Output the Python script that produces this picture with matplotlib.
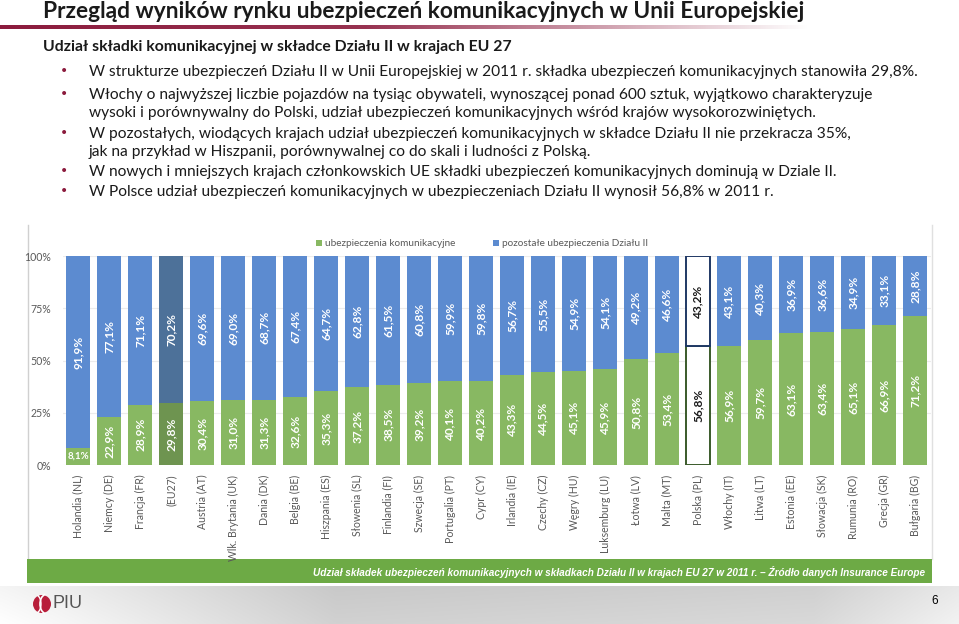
import matplotlib
matplotlib.use("Agg")
import matplotlib.pyplot as plt
import numpy as np
from matplotlib import font_manager as fm
from matplotlib.patches import Rectangle, Circle, Arc

# ---------------- data ----------------
countries = ["Holandia (NL)", "Niemcy (DE)", "Francja (FR)", "(EU27)", "Austria (AT)",
             "Wlk. Brytania (UK)", "Dania (DK)", "Belgia (BE)", "Hiszpania (ES)",
             "Słowenia (SL)", "Finlandia (FI)", "Szwecja (SE)", "Portugalia (PT)",
             "Cypr (CY)", "Irlandia (IE)", "Czechy (CZ)", "Węgry (HU)", "Luksemburg (LU)",
             "Łotwa (LV)", "Malta (MT)", "Polska (PL)", "Włochy (IT)", "Litwa (LT)",
             "Estonia (EE)", "Słowacja (SK)", "Rumunia (RO)", "Grecja (GR)", "Bułgaria (BG)"]
motor = [8.1, 22.9, 28.9, 29.8, 30.4, 31.0, 31.3, 32.6, 35.3, 37.2, 38.5, 39.2, 40.1,
         40.2, 43.3, 44.5, 45.1, 45.9, 50.8, 53.4, 56.8, 56.9, 59.7, 63.1, 63.4, 65.1,
         66.9, 71.2]
other = [91.9, 77.1, 71.1, 70.2, 69.6, 69.0, 68.7, 67.4, 64.7, 62.8, 61.5, 60.8, 59.9,
         59.8, 56.7, 55.5, 54.9, 54.1, 49.2, 46.6, 43.2, 43.1, 40.3, 36.9, 36.6, 34.9,
         33.1, 28.8]
eu_label = "(EU27)"
pl_label = "Polska (PL)"
yticks = [0, 25, 50, 75, 100]
ytick_labels = ["0%", "25%", "50%", "75%", "100%"]
legend_labels = ["ubezpieczenia komunikacyjne", "pozostałe ubezpieczenia Działu II"]

title = "Przegląd wyników rynku ubezpieczeń komunikacyjnych w Unii Europejskiej"
subtitle = "Udział składki komunikacyjnej w składce Działu II w krajach EU 27"
bullets = [
    ["W strukturze ubezpieczeń Działu II w Unii Europejskiej w 2011 r. składka ubezpieczeń komunikacyjnych stanowiła 29,8%."],
    ["Włochy o najwyższej liczbie pojazdów na tysiąc obywateli, wynoszącej ponad 600 sztuk, wyjątkowo charakteryzuje",
     "wysoki i porównywalny do Polski, udział ubezpieczeń komunikacyjnych wśród krajów wysokorozwiniętych."],
    ["W pozostałych, wiodących krajach udział ubezpieczeń komunikacyjnych w składce Działu II nie przekracza 35%,",
     "jak na przykład w Hiszpanii, porównywalnej co do skali i ludności z Polską."],
    ["W nowych i mniejszych krajach członkowskich UE składki ubezpieczeń komunikacyjnych dominują w Dziale II."],
    ["W Polsce udział ubezpieczeń komunikacyjnych w ubezpieczeniach Działu II wynosił 56,8% w 2011 r."],
]
banner = "Udział składek ubezpieczeń komunikacyjnych w składkach Działu II w krajach EU 27 w 2011 r. – Źródło danych Insurance Europe"
page_no = "6"


def has_font(name):
    try:
        fm.findfont(fm.FontProperties(family=name), fallback_to_default=False)
        return True
    except Exception:
        return False


BODY = "Lato" if has_font("Lato") else "DejaVu Sans"
NARROW = "Liberation Sans Narrow" if has_font("Liberation Sans Narrow") else "Liberation Sans"

GREEN = "#88B862"
BLUE = "#5C8BD0"
EU_GREEN = "#6E9450"
EU_BLUE = "#4D7199"
MAROON = "#8B1A3C"
GRAYTXT = "#595959"

W, H = 959, 624
fig = plt.figure(figsize=(W / 100, H / 100), dpi=100)
fig.patch.set_facecolor("white")

# background axes in pixel coordinates
bg = fig.add_axes([0, 0, 1, 1], zorder=0)
bg.set_xlim(0, W)
bg.set_ylim(H, 0)
bg.axis("off")

renderer = fig.canvas.get_renderer()


def fit(t, width):
    for _ in range(3):
        bb = t.get_window_extent(renderer=renderer)
        t.set_fontsize(t.get_fontsize() * width / bb.width)
    return t.get_fontsize()


# bottom gradient
xs = np.linspace(0, 1, 400)
r = np.interp(xs, [0, 0.06, 0.35, 0.85, 1.0], [1.0, 0.97, 0.82, 0.85, 0.95])
grad = np.tile(r, (40, 1))
vert = np.linspace(0.96, 1.0, 40)[:, None]
img = np.clip(grad * vert, 0, 1)
bg.imshow(np.dstack([img, img, img]), extent=[0, W, H, 586], aspect="auto", zorder=0)

# maroon line under title
line = np.zeros((1, 400, 4))
c = matplotlib.colors.to_rgb(MAROON)
line[..., 0], line[..., 1], line[..., 2] = c
lx = np.linspace(0, 1, 400)
line[0, :, 3] = np.clip(np.interp(lx, [0, 0.45, 1.0], [1.0, 0.9, 0.0]), 0, 1)
bg.imshow(line, extent=[0, 810, 29.5, 26.0], aspect="auto", zorder=1)

# title & subtitle
t = bg.text(43, 12, title, family=BODY, fontweight="bold", fontsize=16, va="center",
            ha="left", color="#1a1a1a")
fit(t, 762)
t = bg.text(43, 47, subtitle, family=BODY, fontweight="bold", fontsize=11, va="center",
            ha="left", color="#1a1a1a")
fit(t, 469)

# bullets
ys = [[72], [95, 113], [134, 152], [172], [192]]
t0 = bg.text(89, 72, bullets[0][0], family=BODY, fontsize=11, va="center", ha="left",
             color="#1a1a1a")
fs = fit(t0, 828)
for bl, yy in zip(bullets, ys):
    bg.text(64, yy[0] - 1, "•", family="DejaVu Sans", fontsize=10, va="center", ha="center",
            color=MAROON)
    for k, (txt, y) in enumerate(zip(bl, yy)):
        if bl is bullets[0] and k == 0:
            continue
        bg.text(89, y, txt, family=BODY, fontsize=fs, va="center", ha="left", color="#1a1a1a")

# chart panel
bg.add_patch(Rectangle((27, 225), 905, 334, facecolor="white", edgecolor="none", zorder=1))
bg.plot([27.5, 27.5], [225, 559], color="#d0d0d0", lw=1, zorder=2)
bg.plot([931.5, 931.5], [225, 559], color="#e0e0e0", lw=1, zorder=2)
bg.add_patch(Rectangle((27, 559), 905, 24, facecolor="#6DAA45", edgecolor="none", zorder=2))
t = bg.text(925, 572, banner, family=NARROW, fontweight="bold", style="italic", fontsize=10,
            va="center", ha="right", color="white", zorder=3)
fit(t, 611)

# legend
bg.add_patch(Rectangle((316, 240), 6, 6, facecolor=GREEN, edgecolor="none", zorder=3))
t = bg.text(325, 243, legend_labels[0], family=BODY, fontsize=8, va="center", ha="left",
            color=GRAYTXT, zorder=3)
lfs = fit(t, 130)
bg.add_patch(Rectangle((493, 240), 6, 6, facecolor=BLUE, edgecolor="none", zorder=3))
bg.text(502, 243, legend_labels[1], family=BODY, fontsize=lfs, va="center", ha="left",
        color=GRAYTXT, zorder=3)

# logo
bg.add_patch(Circle((42, 604), 9, facecolor="#B81E3A", edgecolor="none", zorder=3))
bg.add_patch(Arc((47, 604), 14, 20, theta1=100, theta2=260, color="white", lw=1.2, zorder=4))
bg.add_patch(Arc((36, 604), 10, 18, theta1=-80, theta2=80, color="white", lw=1.0, zorder=4))
bg.text(52, 604, "PIU", family=NARROW, fontsize=13, va="center", ha="left", color="#555555",
        zorder=3)
bg.text(935, 601, page_no, family="Liberation Sans", fontsize=8.5, va="center", ha="center",
        color="black", zorder=3)

# ---------------- chart ----------------
ax = fig.add_axes([62.5 / W, 1 - 465 / H, (930.5 - 62.5) / W, (465 - 256) / H], zorder=2)
ax.set_facecolor("none")
x = np.arange(len(countries))
m = np.array(motor)
o = np.array(other)
gcols = [EU_GREEN if c == eu_label else ("white" if c == pl_label else GREEN) for c in countries]
bcols = [EU_BLUE if c == eu_label else ("white" if c == pl_label else BLUE) for c in countries]
gb = ax.bar(x, m, width=0.77, color=gcols, zorder=2)
bb = ax.bar(x, o, bottom=m, width=0.77, color=bcols, zorder=2)
ipl = countries.index(pl_label)
gb[ipl].set_edgecolor("#3A5A2A")
gb[ipl].set_linewidth(1.4)
bb[ipl].set_edgecolor("#1F3864")
bb[ipl].set_linewidth(1.4)

for i in range(len(countries)):
    col = "#1a1a1a" if countries[i] == pl_label else "white"
    for val, base in ((m[i], 0), (o[i], m[i])):
        lab = f"{val:.1f}%".replace(".", ",")
        if val < 15:
            ax.text(x[i], base + val / 2, lab, rotation=0, ha="center", va="center",
                    family=BODY, fontweight="bold", fontsize=7.0, color=col, zorder=3)
        else:
            ax.text(x[i], base + val / 2, lab, rotation=90, ha="center", va="center",
                    family=BODY, fontweight="bold", fontsize=8.6, color=col, zorder=3)

ax.set_xlim(-0.5, len(countries) - 0.5)
ax.set_ylim(0, 100)
ax.set_yticks(yticks)
ax.set_yticklabels(ytick_labels, family=BODY, fontsize=7.6, color=GRAYTXT)
ax.set_xticks(x)
ax.set_xticklabels(countries, rotation=90, family=BODY, fontsize=7.6, color=GRAYTXT,
                   va="top", ha="center")
ax.tick_params(axis="both", length=0)
ax.tick_params(axis="y", pad=8)
ax.tick_params(axis="x", pad=7)
for s in ax.spines.values():
    s.set_visible(False)
ax.yaxis.grid(True, color="#ececec", lw=0.8, zorder=0)
ax.set_axisbelow(True)

fig.savefig("out.png", dpi=100, facecolor="white")
